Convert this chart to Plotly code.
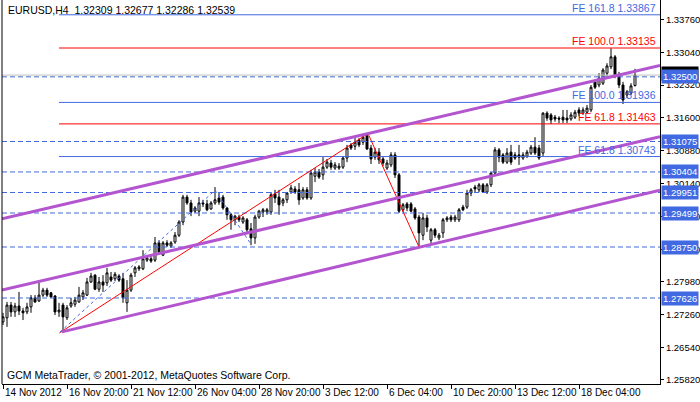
import plotly.graph_objects as go

# ---------------- data ----------------
opens = [1.2710,1.2719,1.2747,1.2732,1.2745,1.2734,1.2732,1.2743,1.2763,1.2756,
1.2769,1.2780,1.2774,1.2767,1.2732,1.2747,1.2719,1.2745,1.2749,1.2754,
1.2765,1.2769,1.2798,1.2813,1.2782,1.2798,1.2796,1.2809,1.2805,1.2811,
1.2805,1.2752,1.2780,1.2818,1.2827,1.2827,1.2846,1.2849,1.2846,1.2884,
1.2857,1.2884,1.2877,1.2886,1.2901,1.2930,1.2985,1.2972,1.2954,1.2954,
1.2972,1.2970,1.2959,1.2972,1.2983,1.2985,1.2961,1.2946,1.2935,1.2941,
1.2930,1.2935,1.2915,1.2895,1.2941,1.2952,1.2952,1.2952,1.2992,1.2985,
1.2972,1.2979,1.2996,1.3003,1.3001,1.2983,1.3001,1.2983,1.3031,1.3040,
1.3034,1.3051,1.3060,1.3049,1.3049,1.3051,1.3071,1.3100,1.3097,1.3111,
1.3106,1.3120,1.3093,1.3073,1.3084,1.3069,1.3049,1.3056,1.3078,1.3034,
1.2957,1.2970,1.2970,1.2959,1.2941,1.2901,1.2939,1.2890,1.2913,1.2895,
1.2906,1.2935,1.2941,1.2935,1.2935,1.2963,1.2963,1.2994,1.3007,1.3001,
1.3012,1.2996,1.3012,1.3038,1.3089,1.3078,1.3062,1.3084,1.3078,1.3078,
1.3071,1.3075,1.3082,1.3095,1.3093,1.3082,1.3170,1.3166,1.3161,1.3159,
1.3161,1.3159,1.3157,1.3161,1.3177,1.3170,1.3172,1.3177,1.3239,1.3232,
1.3236,1.3258,1.3272,1.3294,1.3254,1.3232,1.3210,1.3214,1.32309]
highs = [1.2730,1.2754,1.2754,1.2752,1.2776,1.2741,1.2752,1.2769,1.2769,1.2796,
1.2785,1.2785,1.2776,1.2769,1.2752,1.2752,1.2747,1.2763,1.2765,1.2787,
1.2780,1.2807,1.2818,1.2815,1.2809,1.2813,1.2829,1.2820,1.2820,1.2815,
1.2818,1.2802,1.2818,1.2833,1.2835,1.2868,1.2855,1.2855,1.2897,1.2890,
1.2888,1.2890,1.2888,1.2908,1.2934,1.2990,1.2990,1.2979,1.2965,1.2985,
1.2979,1.2979,1.2976,1.3007,1.2994,1.2990,1.2963,1.2950,1.2946,1.2946,
1.2943,1.2939,1.2928,1.2946,1.2957,1.2961,1.2961,1.2996,1.3001,1.3001,
1.2983,1.2996,1.3012,1.3009,1.3016,1.3007,1.3007,1.3045,1.3049,1.3047,
1.3073,1.3069,1.3067,1.3062,1.3060,1.3075,1.3100,1.3104,1.3115,1.3115,
1.3124,1.3124,1.3100,1.3093,1.3093,1.3075,1.3067,1.3084,1.3084,1.3038,
1.2972,1.2974,1.2974,1.2963,1.2946,1.2950,1.2946,1.2917,1.2917,1.2906,
1.2939,1.2943,1.2946,1.2946,1.2961,1.2968,1.3001,1.3005,1.3012,1.3016,
1.3016,1.3016,1.3040,1.3095,1.3093,1.3082,1.3093,1.3100,1.3084,1.3100,
1.3084,1.3089,1.3100,1.3117,1.3100,1.3172,1.3174,1.3170,1.3166,1.3163,
1.3177,1.3177,1.3172,1.3177,1.3183,1.3183,1.3188,1.3232,1.3243,1.3258,
1.3269,1.3280,1.3313,1.3298,1.3261,1.3239,1.3221,1.3236,1.32677]
lows = [1.2703,1.2699,1.2721,1.2721,1.2725,1.2714,1.2727,1.2730,1.2752,1.2754,
1.2765,1.2765,1.2763,1.2725,1.2721,1.2686,1.2714,1.2741,1.2743,1.2752,
1.2758,1.2767,1.2796,1.2780,1.2776,1.2776,1.2789,1.2798,1.2800,1.2798,
1.2752,1.2732,1.2776,1.2809,1.2822,1.2824,1.2842,1.2840,1.2842,1.2862,
1.2855,1.2875,1.2873,1.2882,1.2897,1.2923,1.2968,1.2943,1.2950,1.2943,
1.2963,1.2954,1.2957,1.2968,1.2968,1.2957,1.2935,1.2913,1.2923,1.2930,
1.2926,1.2906,1.2879,1.2882,1.2937,1.2941,1.2946,1.2946,1.2972,1.2946,
1.2965,1.2972,1.2992,1.2992,1.2968,1.2979,1.2979,1.2979,1.3018,1.3025,
1.3023,1.3047,1.3045,1.3045,1.3045,1.3047,1.3062,1.3089,1.3089,1.3095,
1.3100,1.3089,1.3058,1.3067,1.3058,1.3053,1.3045,1.3051,1.3027,1.2950,
1.2952,1.2954,1.2952,1.2935,1.2875,1.2890,1.2908,1.2882,1.2895,1.2890,
1.2895,1.2930,1.2930,1.2930,1.2930,1.2954,1.2959,1.2987,1.2996,1.2996,
1.2994,1.2992,1.3007,1.3034,1.3062,1.3058,1.3058,1.3056,1.3067,1.3056,
1.3067,1.3071,1.3078,1.3078,1.3067,1.3075,1.3153,1.3146,1.3151,1.3148,
1.3148,1.3148,1.3153,1.3157,1.3163,1.3166,1.3170,1.3172,1.3223,1.3227,
1.3232,1.3252,1.3267,1.3247,1.3225,1.3190,1.3203,1.3210,1.32286]
closes = [1.2721,1.2747,1.2732,1.2745,1.2734,1.2730,1.2743,1.2763,1.2754,1.2769,
1.2780,1.2769,1.2765,1.2732,1.2736,1.2721,1.2741,1.2752,1.2758,1.2769,
1.2774,1.2798,1.2811,1.2782,1.2798,1.2791,1.2818,1.2802,1.2815,1.2802,
1.2763,1.2780,1.2813,1.2829,1.2831,1.2849,1.2851,1.2844,1.2884,1.2864,
1.2884,1.2879,1.2884,1.2901,1.2930,1.2985,1.2972,1.2952,1.2961,1.2972,
1.2970,1.2957,1.2972,1.2979,1.2974,1.2961,1.2946,1.2935,1.2943,1.2935,
1.2939,1.2913,1.2895,1.2941,1.2954,1.2957,1.2957,1.2990,1.2983,1.2968,
1.2979,1.2994,1.3005,1.2996,1.2979,1.3001,1.2983,1.3038,1.3040,1.3029,
1.3051,1.3062,1.3051,1.3056,1.3053,1.3071,1.3093,1.3093,1.3106,1.3100,
1.3117,1.3091,1.3069,1.3084,1.3067,1.3060,1.3060,1.3078,1.3034,1.2954,
1.2968,1.2961,1.2954,1.2939,1.2906,1.2939,1.2919,1.2913,1.2901,1.2901,
1.2935,1.2939,1.2935,1.2941,1.2957,1.2957,1.2994,1.3001,1.3003,1.3012,
1.2996,1.3012,1.3038,1.3089,1.3073,1.3062,1.3082,1.3062,1.3071,1.3073,
1.3078,1.3084,1.3095,1.3082,1.3071,1.3170,1.3159,1.3155,1.3157,1.3157,
1.3155,1.3155,1.3166,1.3172,1.3170,1.3177,1.3181,1.3227,1.3227,1.3247,
1.3265,1.3274,1.3294,1.3254,1.3232,1.3199,1.3217,1.3230,1.32539]
bars = list(range(len(closes)))

date_tick_bars = [0, 16, 32, 48, 64, 80, 96, 112, 128, 144]
date_tick_labels = ["14 Nov 2012", "16 Nov 20:00", "21 Nov 12:00", "26 Nov 04:00",
                    "28 Nov 20:00", "3 Dec 12:00", "6 Dec 04:00", "10 Dec 20:00",
                    "13 Dec 12:00", "18 Dec 04:00"]
price_ticks = [1.33760, 1.33040, 1.32320, 1.31600, 1.30880, 1.30140,
               1.29420, 1.28700, 1.27980, 1.27260, 1.26540, 1.25820]
price_tick_labels = ["1.33760", "1.33040", "1.32320", "1.31600", "1.30880", "1.30140",
                     "1.29420", "1.28700", "1.27980", "1.27260", "1.26540", "1.25820"]

dashed_levels = [1.32500, 1.31075, 1.30404, 1.29951, 1.29499, 1.28750, 1.27626]
bid_price = 1.32539

fe_levels = [1.33867, 1.33135, 1.31936, 1.31463, 1.30743]
fe_texts = ["FE 161.8 1.33867", "FE 100.0 1.33135", "FE 100.0 1.31936",
            "FE 61.8 1.31463", "FE 61.8 1.30743"]
fe_is_red = [False, True, False, True, False]
fe_start_bar = 14

red_zz_x = [14.1, 91.25, 104]
red_zz_y = [1.26855, 1.3125, 1.28750]
blue_zz_x = [14.25, 53, 62]
blue_zz_y = [1.26875, 1.3000, 1.28811]

channel_x = [[-0.25, 164.25], [-0.25, 164.25], [14.75, 164.25]]
channel_y = [[1.2937, 1.3275], [1.2780, 1.3118], [1.2688, 1.3000]]

X_RANGE = [-0.25, 164.25]
Y_RANGE = [1.25731, 1.34193]

BLUE = "#4169E1"
RED = "#FF0000"
PURPLE = "#B455D0"
FONT = "Liberation Sans"

fig = go.Figure()

for lv in dashed_levels:
    fig.add_trace(go.Scatter(x=X_RANGE, y=[lv, lv], mode="lines",
                             line=dict(color=BLUE, width=1, dash="5px,3px"),
                             hoverinfo="skip", showlegend=False))
fig.add_trace(go.Scatter(x=X_RANGE, y=[bid_price, bid_price], mode="lines",
                         line=dict(color="#C0C0C0", width=1),
                         hoverinfo="skip", showlegend=False))
for lv, red in zip(fe_levels, fe_is_red):
    fig.add_trace(go.Scatter(x=[fe_start_bar, X_RANGE[1]], y=[lv, lv], mode="lines",
                             line=dict(color=RED if red else BLUE, width=1),
                             hoverinfo="skip", showlegend=False))

fig.add_trace(go.Candlestick(
    x=bars, open=opens, high=highs, low=lows, close=closes,
    increasing=dict(line=dict(color="black", width=1), fillcolor="white"),
    decreasing=dict(line=dict(color="black", width=1), fillcolor="black"),
    whiskerwidth=0, hoverinfo="skip", showlegend=False))

fig.add_trace(go.Scatter(x=red_zz_x, y=red_zz_y, mode="lines",
                         line=dict(color=RED, width=1), hoverinfo="skip", showlegend=False))
fig.add_trace(go.Scatter(x=blue_zz_x, y=blue_zz_y, mode="lines",
                         line=dict(color=BLUE, width=1, dash="dot"),
                         hoverinfo="skip", showlegend=False))
for cx, cy in zip(channel_x, channel_y):
    fig.add_trace(go.Scatter(x=cx, y=cy, mode="lines",
                             line=dict(color=PURPLE, width=3),
                             hoverinfo="skip", showlegend=False))

annotations = []
for lv, txt, red in zip(fe_levels, fe_texts, fe_is_red):
    annotations.append(dict(x=1, xref="paper", y=lv, yref="y", text=txt,
                            xanchor="right", yanchor="bottom", xshift=-2, yshift=-1,
                            showarrow=False,
                            font=dict(family=FONT, size=10.5, color=RED if red else BLUE)))
annotations.append(dict(x=1, xref="paper", y=bid_price, yref="y",
                        text="1.32539", xanchor="left", yanchor="middle", xshift=1, yshift=2,
                        showarrow=False, bgcolor="black", borderpad=1,
                        font=dict(family=FONT, size=9.5, color="white")))
for lv in dashed_levels:
    annotations.append(dict(x=1, xref="paper", y=lv, yref="y",
                            text=f"{lv:.5f}", xanchor="left", yanchor="middle", xshift=1,
                            showarrow=False, bgcolor=BLUE, borderpad=1,
                            font=dict(family=FONT, size=9.5, color="white")))
for b, t in zip(date_tick_bars, date_tick_labels):
    annotations.append(dict(x=b, xref="x", y=0, yref="paper", text=t,
                            xanchor="left", yanchor="top", xshift=0, yshift=-1,
                            showarrow=False, font=dict(family=FONT, size=10, color="black")))
annotations.append(dict(x=0, xref="paper", y=1, yref="paper",
                        text="EURUSD,H4  1.32309 1.32677 1.32286 1.32539",
                        xanchor="left", yanchor="top", xshift=4, yshift=-2,
                        showarrow=False, font=dict(family=FONT, size=10.5, color="black")))
annotations.append(dict(x=0, xref="paper", y=0, yref="paper",
                        text="GCM MetaTrader, © 2001-2012, MetaQuotes Software Corp.",
                        xanchor="left", yanchor="bottom", xshift=3, yshift=1,
                        showarrow=False, font=dict(family=FONT, size=10.5, color="black")))

fig.update_layout(
    width=700, height=402,
    margin=dict(l=2, r=40, t=0, b=18),
    paper_bgcolor="white", plot_bgcolor="white",
    showlegend=False, hovermode=False,
    annotations=annotations,
    shapes=[dict(type="line", xref="paper", yref="paper", x0=0, x1=0, y0=0, y1=1,
                 line=dict(color="black", width=1))],
    xaxis=dict(range=X_RANGE, showgrid=False, zeroline=False,
               rangeslider=dict(visible=False),
               tickvals=date_tick_bars, showticklabels=False,
               ticks="outside", ticklen=4, tickcolor="black",
               showline=True, linecolor="black", linewidth=1),
    yaxis=dict(range=Y_RANGE, side="right", showgrid=False, zeroline=False,
               tickvals=price_ticks, ticktext=price_tick_labels,
               ticks="outside", ticklen=3, tickcolor="black",
               tickfont=dict(family=FONT, size=9.5, color="black"),
               showline=True, linecolor="black", linewidth=1),
)

fig.write_html("out.html", config={"displayModeBar": False},
               post_script="document.body.style.margin='0';document.body.style.padding='0';")
